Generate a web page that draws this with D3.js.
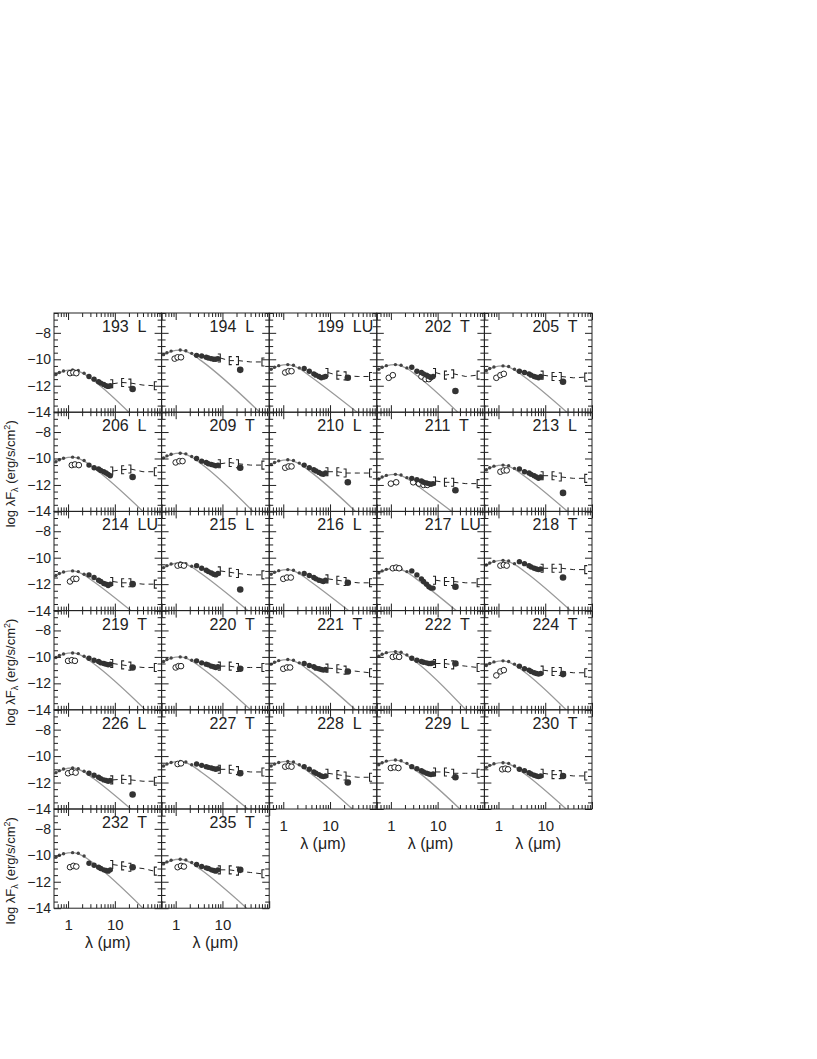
<!DOCTYPE html>
<html><head><meta charset="utf-8">
<script src="https://cdn.jsdelivr.net/npm/d3@7"></script>
<style>body{margin:0;background:#fff} svg{display:block} text{font-family:"Liberation Sans",Arial,sans-serif;fill:#222}</style>
</head><body><svg id="c" width="817" height="1059"></svg>
<script>
const panelIds = ["193  L","194  L","199  LU","202  T","205  T","206  L","209  T","210  L","211  T","213  L","214  LU","215  L","216  L","217  LU","218  T","219  T","220  T","221  T","222  T","224  T","226  L","227  T","228  L","229  L","230  T","232  T","235  T"];

// photosphere model curve [lambda (um), log lambda F_lambda]
const photo = [
 [[0.5,-11.25],[0.8,-10.9],[1.25,-10.8],[2.2,-11.1],[3.5,-11.6],[20,-14]],
 [[0.5,-9.75],[0.8,-9.4],[1.25,-9.3],[2.2,-9.6],[3.5,-10.1],[63,-14]],
 [[0.5,-10.85],[0.8,-10.5],[1.25,-10.4],[2.2,-10.7],[3.5,-11.2],[38,-14]],
 [[0.5,-10.85],[0.8,-10.5],[1.25,-10.4],[2.2,-10.7],[3.5,-11.2],[27,-14]],
 [[0.5,-10.95],[0.8,-10.6],[1.25,-10.5],[2.2,-10.8],[3.5,-11.3],[29,-14]],
 [[0.5,-10.35],[0.8,-10.0],[1.25,-9.9],[2.2,-10.2],[3.5,-10.7],[40,-14]],
 [[0.5,-10.05],[0.8,-9.7],[1.25,-9.6],[2.2,-9.9],[3.5,-10.4],[45,-14]],
 [[0.5,-10.55],[0.8,-10.2],[1.25,-10.1],[2.2,-10.4],[3.5,-10.9],[35,-14]],
 [[0.5,-11.65],[0.8,-11.3],[1.25,-11.2],[2.2,-11.5],[3.5,-12.0],[20,-14]],
 [[0.5,-10.95],[0.8,-10.6],[1.25,-10.5],[2.2,-10.8],[3.5,-11.3],[30,-14]],
 [[0.5,-11.45],[0.8,-11.1],[1.25,-11.0],[2.2,-11.3],[3.5,-11.8],[22,-14]],
 [[0.5,-10.85],[0.8,-10.5],[1.25,-10.4],[2.2,-10.7],[3.5,-11.2],[35,-14]],
 [[0.5,-11.35],[0.8,-11.0],[1.25,-10.9],[2.2,-11.2],[3.5,-11.7],[25,-14]],
 [[0.5,-11.25],[0.8,-10.9],[1.25,-10.8],[2.2,-11.1],[3.5,-11.6],[25,-14]],
 [[0.5,-10.65],[0.8,-10.3],[1.25,-10.2],[2.2,-10.5],[3.5,-11.0],[35,-14]],
 [[0.5,-10.15],[0.8,-9.8],[1.25,-9.7],[2.2,-10.0],[3.5,-10.5],[45,-14]],
 [[0.5,-10.45],[0.8,-10.1],[1.25,-10.0],[2.2,-10.3],[3.5,-10.8],[40,-14]],
 [[0.5,-10.65],[0.8,-10.3],[1.25,-10.2],[2.2,-10.5],[3.5,-11.0],[35,-14]],
 [[0.5,-10.05],[0.8,-9.7],[1.25,-9.6],[2.2,-9.9],[3.5,-10.4],[40,-14]],
 [[0.5,-10.75],[0.8,-10.4],[1.25,-10.3],[2.2,-10.6],[3.5,-11.1],[28,-14]],
 [[0.5,-11.35],[0.8,-11.0],[1.25,-10.9],[2.2,-11.2],[3.5,-11.7],[22,-14]],
 [[0.5,-10.85],[0.8,-10.5],[1.25,-10.4],[2.2,-10.7],[3.5,-11.2],[35,-14]],
 [[0.5,-10.85],[0.8,-10.5],[1.25,-10.4],[2.2,-10.7],[3.5,-11.2],[30,-14]],
 [[0.5,-10.75],[0.8,-10.4],[1.25,-10.3],[2.2,-10.6],[3.5,-11.1],[30,-14]],
 [[0.5,-10.95],[0.8,-10.6],[1.25,-10.5],[2.2,-10.8],[3.5,-11.3],[28,-14]],
 [[0.5,-10.25],[0.8,-9.9],[1.25,-9.8],[2.2,-10.1],[3.5,-10.6],[40,-14]],
 [[0.5,-10.75],[0.8,-10.4],[1.25,-10.3],[2.2,-10.6],[3.5,-11.1],[33,-14]]
];

// optical / near-IR photometry (small dots)
const optLam = [0.55, 0.65, 0.8, 1.25, 1.65, 2.2];
const optY = [
 [-11.15,-11.0,-10.88,-10.8,-10.85,-11.05],[-9.65,-9.5,-9.38,-9.3,-9.35,-9.55],
 [-10.75,-10.6,-10.48,-10.4,-10.45,-10.65],[-10.75,-10.6,-10.48,-10.4,-10.45,-10.65],
 [-10.85,-10.7,-10.58,-10.5,-10.55,-10.75],[-10.25,-10.1,-9.98,-9.9,-9.95,-10.15],
 [-9.95,-9.8,-9.68,-9.6,-9.65,-9.85],[-10.45,-10.3,-10.18,-10.1,-10.15,-10.35],
 [-11.55,-11.4,-11.28,-11.2,-11.25,-11.45],[-10.85,-10.7,-10.58,-10.5,-10.55,-10.75],
 [-11.35,-11.2,-11.08,-11.0,-11.05,-11.25],[-10.75,-10.6,-10.48,-10.4,-10.45,-10.65],
 [-11.25,-11.1,-10.98,-10.9,-10.95,-11.15],[-11.15,-11.0,-10.88,-10.8,-10.85,-11.05],
 [-10.55,-10.4,-10.28,-10.2,-10.25,-10.45],[-10.05,-9.9,-9.78,-9.7,-9.75,-9.95],
 [-10.35,-10.2,-10.08,-10.0,-10.05,-10.25],[-10.55,-10.4,-10.28,-10.2,-10.25,-10.45],
 [-9.95,-9.8,-9.68,-9.6,-9.65,-9.85],[-10.65,-10.5,-10.38,-10.3,-10.35,-10.55],
 [-11.25,-11.1,-10.98,-10.9,-10.95,-11.15],[-10.75,-10.6,-10.48,-10.4,-10.45,-10.65],
 [-10.75,-10.6,-10.48,-10.4,-10.45,-10.65],[-10.65,-10.5,-10.38,-10.3,-10.35,-10.55],
 [-10.85,-10.7,-10.58,-10.5,-10.55,-10.75],[-10.15,-10.0,-9.88,-9.8,-9.85,-10.05],
 [-10.65,-10.5,-10.38,-10.3,-10.35,-10.55]
];

// observed (not dereddened) points: open circles
const openPts = [
 [[1.1,-11.05],[1.3,-11.0],[1.5,-11.05]],[[0.95,-9.95],[1.1,-9.85],[1.3,-9.85]],
 [[1.1,-11.0],[1.3,-10.9],[1.5,-10.9]],[[0.9,-11.4],[1.1,-11.2],[4.5,-11.3],[5.5,-11.5],[6.5,-11.5]],
 [[0.9,-11.4],[1.1,-11.2],[1.3,-11.1]],[[1.2,-10.5],[1.4,-10.45],[1.7,-10.5]],
 [[1.0,-10.3],[1.2,-10.2],[1.4,-10.2]],[[1.1,-10.7],[1.3,-10.6],[1.5,-10.6]],
 [[1.0,-11.9],[1.3,-11.8],[3.0,-11.8],[4.0,-11.9],[5.0,-12.0],[6.0,-12.0]],[[1.1,-11.0],[1.3,-10.9],[1.5,-10.9]],
 [[1.1,-11.8],[1.3,-11.6],[1.5,-11.6]],[[1.1,-10.6],[1.3,-10.55],[1.5,-10.6]],
 [[1.0,-11.6],[1.2,-11.5],[1.45,-11.5]],[[1.1,-10.8],[1.3,-10.75],[1.5,-10.8]],
 [[1.1,-10.6],[1.3,-10.55],[1.5,-10.6]],[[1.0,-10.3],[1.2,-10.25],[1.4,-10.3]],
 [[1.0,-10.8],[1.15,-10.7],[1.3,-10.7]],[[1.0,-10.9],[1.2,-10.8],[1.4,-10.8]],
 [[1.1,-10.0],[1.3,-9.95],[1.5,-10.0]],[[0.9,-11.4],[1.1,-11.1],[1.3,-11.0]],
 [[1.0,-11.3],[1.2,-11.2],[1.45,-11.25]],[[1.1,-10.6],[1.3,-10.55]],
 [[1.1,-10.8],[1.3,-10.75],[1.5,-10.8]],[[1.0,-10.9],[1.2,-10.85],[1.45,-10.9]],
 [[1.2,-11.0],[1.4,-10.95],[1.6,-11.0]],[[1.1,-10.9],[1.3,-10.8],[1.5,-10.85]],
 [[1.1,-10.9],[1.3,-10.8],[1.5,-10.85]]
];

// dereddened mid-IR points (filled circles)
const fillLam = [2.8, 3.6, 4.5, 5.0, 5.8, 6.5, 7.2, 8.0];
const fillY = [
 [-11.3,-11.5,-11.7,-11.8,-11.9,-12.0,-12.05,-12.0],[-9.7,-9.75,-9.85,-9.9,-9.95,-10.0,-10.0,-9.95],
 [-10.7,-10.9,-11.1,-11.2,-11.3,-11.4,-11.35,-11.3],[-10.6,-10.9,-11.0,-11.1,-11.2,-11.3,-11.4,-11.3],
 [-10.9,-11.0,-11.1,-11.2,-11.3,-11.35,-11.4,-11.3],[-10.5,-10.7,-10.8,-10.9,-11.0,-11.1,-11.2,-11.3],
 [-10.0,-10.2,-10.3,-10.4,-10.45,-10.5,-10.55,-10.5],[-10.5,-10.7,-10.85,-10.95,-11.05,-11.15,-11.2,-11.1],
 [-11.5,-11.6,-11.7,-11.8,-11.85,-11.9,-11.95,-11.9],[-10.8,-11.0,-11.1,-11.2,-11.3,-11.4,-11.5,-11.4],
 [-11.3,-11.5,-11.7,-11.8,-11.95,-12.0,-12.1,-12.0],[-10.6,-10.8,-10.95,-11.05,-11.15,-11.25,-11.3,-11.2],
 [-11.2,-11.35,-11.5,-11.6,-11.7,-11.75,-11.8,-11.7],[-11.0,-11.3,-11.6,-11.8,-12.0,-12.2,-12.3,-12.3],
 [-10.3,-10.45,-10.6,-10.7,-10.8,-10.85,-10.9,-10.85],[-10.1,-10.25,-10.35,-10.45,-10.5,-10.55,-10.6,-10.55],
 [-10.3,-10.45,-10.55,-10.6,-10.7,-10.75,-10.8,-10.75],[-10.5,-10.65,-10.75,-10.85,-10.9,-10.95,-11.0,-10.95],
 [-10.1,-10.25,-10.35,-10.4,-10.45,-10.5,-10.5,-10.45],[-10.7,-10.9,-11.0,-11.1,-11.2,-11.25,-11.3,-11.25],
 [-11.3,-11.45,-11.6,-11.7,-11.8,-11.85,-11.9,-11.85],[-10.6,-10.7,-10.8,-10.85,-10.9,-10.95,-11.0,-10.95],
 [-10.8,-11.0,-11.2,-11.3,-11.4,-11.5,-11.55,-11.5],[-10.8,-10.95,-11.1,-11.2,-11.3,-11.35,-11.4,-11.35],
 [-11.0,-11.1,-11.25,-11.35,-11.45,-11.5,-11.55,-11.5],[-10.6,-10.75,-10.9,-11.0,-11.1,-11.15,-11.2,-11.1],
 [-10.7,-10.85,-10.95,-11.0,-11.1,-11.15,-11.2,-11.1]
];

// IRS-like dashed segment with bracket marks
const dashLam = [9, 14, 22, 40, 70];
const dashY = [
 [-11.85,-11.75,-11.8,-11.95,-12.0],[-9.9,-10.1,-10.1,-10.2,-10.2],[-11.0,-11.2,-11.25,-11.3,-11.3],
 [-11.0,-11.2,-11.1,-11.3,-11.2],[-11.2,-11.3,-11.3,-11.4,-11.35],[-10.95,-10.85,-10.8,-11.0,-11.0],
 [-10.4,-10.3,-10.4,-10.5,-10.5],[-11.0,-11.0,-11.1,-11.1,-11.1],[-11.7,-11.8,-11.8,-11.9,-11.9],
 [-11.3,-11.3,-11.4,-11.5,-11.5],[-11.8,-11.9,-11.9,-12.0,-12.0],[-11.0,-11.1,-11.2,-11.3,-11.3],
 [-11.6,-11.7,-11.8,-11.9,-11.9],[-11.7,-11.8,-11.8,-11.9,-11.9],[-10.8,-10.8,-10.8,-10.9,-10.9],
 [-10.5,-10.6,-10.7,-10.8,-10.8],[-10.7,-10.7,-10.8,-10.8,-10.8],[-10.85,-10.9,-11.0,-11.1,-11.2],
 [-10.5,-10.5,-10.6,-10.7,-10.8],[-11.0,-11.1,-11.1,-11.2,-11.2],[-11.8,-11.75,-11.8,-11.9,-11.9],
 [-11.0,-11.0,-11.1,-11.2,-11.2],[-11.3,-11.4,-11.5,-11.6,-11.6],[-11.2,-11.2,-11.3,-11.3,-11.3],
 [-11.3,-11.4,-11.4,-11.5,-11.5],[-10.7,-10.8,-10.9,-11.0,-11.2],[-11.1,-11.1,-11.2,-11.3,-11.4]
];
const bracketKind = ["]","[","]",null,"["];

// MIPS 24 micron point
const mipsLam = 24;
const mipsY = [-12.25,-10.8,-11.4,-12.4,-11.7,-11.4,-10.7,-11.8,-12.4,-12.6,-12.0,-12.4,-11.9,-12.2,-11.5,-10.8,-10.9,-11.1,-10.5,-11.3,-12.9,-11.3,-12.0,-11.6,-11.5,-10.9,-11.1];

const yTicks = [-14,-12,-10,-8];
const xTicks = [1,10];

// ---------------- drawing ----------------
const W = 107.6, H = 99.2, X0 = 54, Y0 = 313, NC = 5;
const svg = d3.select('#c');
svg.append('rect').attr('width',817).attr('height',1059).attr('fill','#fff');
svg.append('defs').append('clipPath').attr('id','pclip')
  .append('rect').attr('width',W).attr('height',H);

const x = d3.scaleLog().domain([0.5,100]).range([0,W]);
const y = d3.scaleLinear().domain([-14,-6.5]).range([H,0]);
const xMinor = [0.6,0.7,0.8,0.9,2,3,4,5,6,7,8,9,20,30,40,50,60,70,80,90];
const xMajor = [1,10,100];
const yMinor = d3.range(-13.5,-6.4,0.5).filter(v => Math.abs(v - Math.round(v/2)*2) > 1e-6);
const ink = '#222';
const font = '"Liberation Sans",Arial,sans-serif';

const lineGen = d3.line().x(d => x(d[0])).y(d => y(d[1])).curve(d3.curveMonotoneX);

panelIds.forEach((id, i) => {
  const c = i % NC, r = Math.floor(i / NC);
  const g = svg.append('g').attr('transform', `translate(${X0 + c*W},${Y0 + r*H})`);
  const isBottom = (i + NC >= panelIds.length);

  const dg = g.append('g').attr('clip-path','url(#pclip)');
  dg.append('path').attr('d', lineGen(photo[i])).attr('fill','none')
    .attr('stroke','#9a9a9a').attr('stroke-width',1.3);
  const dpts = dashLam.map((l,k) => [l, dashY[i][k]]);
  dg.append('path').attr('d', d3.line().x(d=>x(d[0])).y(d=>y(d[1]))(dpts))
    .attr('fill','none').attr('stroke',ink).attr('stroke-width',1).attr('stroke-dasharray','5,4');
  dpts.forEach((d,k) => {
    const kind = bracketKind[k]; if (!kind) return;
    const px = x(d[0]), py = y(d[1]), s = kind === '[' ? 1 : -1;
    dg.append('path').attr('d', `M${px+2.5*s},${py-4}H${px}V${py+4}H${px+2.5*s}`)
      .attr('fill','none').attr('stroke',ink).attr('stroke-width',1.1);
  });
  optLam.forEach((l,k) => dg.append('circle').attr('cx',x(l)).attr('cy',y(optY[i][k])).attr('r',1.7).attr('fill','#444'));
  openPts[i].forEach(d => dg.append('circle').attr('cx',x(d[0])).attr('cy',y(d[1])).attr('r',2.8)
    .attr('fill','#fff').attr('stroke',ink).attr('stroke-width',1));
  fillLam.forEach((l,k) => dg.append('circle').attr('cx',x(l)).attr('cy',y(fillY[i][k])).attr('r',2.7).attr('fill','#333'));
  if (mipsY[i] != null) dg.append('circle').attr('cx',x(mipsLam)).attr('cy',y(mipsY[i])).attr('r',3.3).attr('fill','#333');

  const axes = [
    [d3.axisBottom(x), `translate(0,${H})`, xMajor, xMinor],
    [d3.axisTop(x), 'translate(0,0)', xMajor, xMinor],
    [d3.axisLeft(y), 'translate(0,0)', yTicks, yMinor],
    [d3.axisRight(y), `translate(${W},0)`, yTicks, yMinor]
  ];
  axes.forEach(([ax, tr, maj, min]) => {
    const a1 = g.append('g').attr('transform', tr).call(ax.tickValues(maj).tickSize(-7).tickFormat(''));
    const a2 = g.append('g').attr('transform', tr).call(ax.tickValues(min).tickSize(-4).tickFormat(''));
    [a1,a2].forEach(a => { a.select('.domain').remove(); a.selectAll('line').attr('stroke',ink); });
  });
  g.append('rect').attr('width',W).attr('height',H).attr('fill','none').attr('stroke',ink).attr('stroke-width',1);

  if (c === 0) {
    const a = g.append('g').call(d3.axisLeft(y).tickValues(yTicks).tickSize(0).tickPadding(3));
    a.select('.domain').remove();
    a.selectAll('text').attr('font-size',14).attr('fill',ink).style('font-family',font);
  }
  if (isBottom) {
    const a = g.append('g').attr('transform',`translate(0,${H})`)
      .call(d3.axisBottom(x).tickValues(xTicks).tickSize(0).tickPadding(11).tickFormat(d3.format('d')));
    a.select('.domain').remove();
    a.selectAll('text').attr('font-size',15).attr('fill',ink).style('font-family',font);
    g.append('text').attr('x',W/2).attr('y',H+40).attr('text-anchor','middle').attr('font-size',16)
      .text('λ (μm)');
  }
  g.append('text').attr('x',48).attr('y',19).attr('font-size',16).style('white-space','pre').text(id);
});

[1,3,5].forEach(r => {
  const cy = Y0 + r*H + H/2 + 12;
  const t = svg.append('text').attr('transform',`translate(15,${cy}) rotate(-90)`)
    .attr('text-anchor','middle').attr('font-size',13);
  t.append('tspan').text('log λF');
  t.append('tspan').attr('font-size',9).attr('dy',3).text('λ');
  t.append('tspan').attr('dy',-3).text(' (erg/s/cm');
  t.append('tspan').attr('font-size',9).attr('dy',-5).text('2');
  t.append('tspan').attr('dy',5).text(')');
});
</script></body></html>
